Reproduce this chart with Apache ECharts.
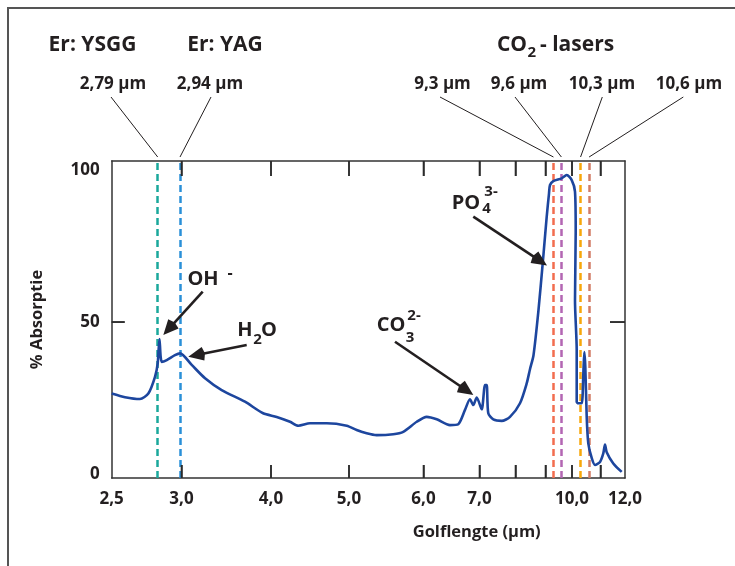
<!DOCTYPE html>
<html>
<head>
<meta charset="utf-8">
<script src="https://cdn.jsdelivr.net/npm/echarts@6.0.0/dist/echarts.min.js"></script>
<style>
  html, body { margin: 0; padding: 0; background: #fff; }
  #chart { width: 735px; height: 566px; }
</style>
</head>
<body>
<div id="chart"></div>
<script>
// wavelength axis of the drawing is not linear: calibration knots (µm -> axis units)
const xKnotWl  = [2.5, 2.79, 2.94, 3.0, 4.0, 5.0, 6.0, 7.0, 8.0, 9.0, 10.0, 11.0, 12.0];
const xKnotPos = [0, 46, 68.3, 69.8, 159.3, 237.3, 311.8, 367.8, 403.8, 433.8, 460.3, 488.8, 513.3];

const xTickWl   = [3, 4, 5, 6, 7, 8, 9, 10, 11];
const xLabelWl  = [2.5, 3, 4, 5, 6, 7, 10, 12];
const xLabels   = ['2,5', '3,0', '4,0', '5,0', '6,0', '7,0', '10,0', '12,0'];
const yLabelVal = [0, 50, 100];
const yTickVal  = [50];

// absorption spectrum (golflengte in µm, % absorptie)
const waveUm = [2.5, 2.584, 2.678, 2.731, 2.773, 2.79, 2.802, 2.817, 2.851, 2.906, 2.94,
  3.114, 3.263, 3.449, 3.709, 3.912, 4.073, 4.244, 4.35, 4.5, 4.714, 4.971,
  5.103, 5.237, 5.371, 5.594, 5.728, 5.909, 6.057, 6.236, 6.473, 6.621, 6.741,
  6.83, 6.889, 6.95, 7.061, 7.153, 7.2, 7.244, 7.383, 7.617, 7.847, 8.15, 8.373,
  8.483, 8.6, 8.76, 8.907, 9.045, 9.132, 9.17, 9.294, 9.611, 9.8, 9.989, 10.105,
  10.13, 10.105, 10.165, 10.165, 10.221, 10.34, 10.396, 10.432, 10.467, 10.516,
  10.572, 10.691, 10.807, 10.982, 11.114, 11.184, 11.253, 11.522, 11.865];
const absorb = [26.5, 25.3, 24.7, 26.5, 32.0, 36.4, 44.4, 36.9, 37.5, 39.1, 39.7,
  35.9, 31.5, 27.6, 23.8, 20.0, 18.8, 17.2, 15.9, 16.7, 16.7, 15.9,
  14.5, 13.4, 12.8, 13.1, 13.9, 17.2, 18.8, 18.0, 16.1, 16.4, 21.1,
  24.6, 22.7, 25.2, 21.3, 29.3, 29.3, 20.0, 18.0, 17.5, 18.8, 23.3, 29.8,
  34.5, 39.1, 53.3, 69.3, 84.6, 92.3, 95.1, 96.4, 97.3, 98.4, 96.7, 92.9,
  79.7, 57.2, 40.8, 23.8, 23.3, 23.3, 32.6, 40.1, 35.3, 18.8,
  10.1, 5.3, 3.0, 4.0, 6.8, 9.7, 7.2, 3.5, 0.7];

// laser lines
const laserWl     = [2.79, 2.94, 9.3, 9.6, 10.3, 10.6];
const laserLabels = ['2,79 µm', '2,94 µm', '9,3 µm', '9,6 µm', '10,3 µm', '10,6 µm'];
const laserColors = ['#1aa89c', '#2a90d8', '#f26d4f', '#b366b3', '#f7a70a', '#d27c66'];

function toPos(wl) {
  for (let i = 1; i < xKnotWl.length; i++) {
    if (wl <= xKnotWl[i]) {
      const t = (wl - xKnotWl[i - 1]) / (xKnotWl[i] - xKnotWl[i - 1]);
      return xKnotPos[i - 1] + t * (xKnotPos[i] - xKnotPos[i - 1]);
    }
  }
  return xKnotPos[xKnotPos.length - 1];
}

const INK = '#231f20';
const FONT = '"Open Sans", "Noto Sans", sans-serif';
const xMax = xKnotPos[xKnotPos.length - 1];
const yMin = -1.3, yMax = 103;

function frameAxis(pos, min, max, ticks, len, label) {
  return {
    type: 'value', min: min, max: max, position: pos,
    axisLine: { show: true, onZero: false, lineStyle: { color: '#333', width: 1.5 } },
    axisTick: { show: true, inside: true, length: len, customValues: ticks.slice(),
      lineStyle: { color: '#333', width: 1.5 } },
    axisLabel: label || { show: false },
    splitLine: { show: false }
  };
}

const xBottom = frameAxis('bottom', 0, xMax, xTickWl.map(toPos), 13, {
  customValues: xLabelWl.map(toPos), margin: 13,
  color: INK, fontWeight: 'bold', fontSize: 17, fontFamily: FONT,
  formatter: v => {
    let best = 0;
    xLabelWl.forEach((w, i) => { if (Math.abs(toPos(w) - v) < Math.abs(toPos(xLabelWl[best]) - v)) best = i; });
    return xLabels[best];
  }
});
const yLeft = frameAxis('left', yMin, yMax, yTickVal, 13, {
  customValues: yLabelVal, margin: 12, color: INK, fontWeight: 'bold', fontSize: 17, fontFamily: FONT
});
yLeft.name = '% Absorptie';
yLeft.nameLocation = 'middle';
yLeft.nameGap = 66;
yLeft.nameTextStyle = { color: INK, fontWeight: 'bold', fontSize: 16.5, fontFamily: FONT };

const chart = echarts.init(document.getElementById('chart'));

chart.setOption({
  backgroundColor: '#fff',
  animation: false,
  grid: { left: 111.7, right: 110, top: 161, bottom: 88 },
  xAxis: [xBottom, frameAxis('top', 0, xMax, xTickWl.map(toPos), 15)],
  yAxis: [yLeft, frameAxis('right', yMin, yMax, yTickVal, 15)],
  series: [{
    type: 'line',
    data: waveUm.map((w, i) => [toPos(w), absorb[i]]),
    showSymbol: false,
    smooth: 0.25,
    lineStyle: { color: '#1d469e', width: 2.6 },
    z: 5,
    markLine: {
      silent: true,
      symbol: ['none', 'none'],
      label: { show: false },
      data: laserWl.map((w, i) => ({
        xAxis: toPos(w),
        lineStyle: { color: laserColors[i], type: [7, 4], width: 2.5 }
      }))
    }
  }]
});

// annotations
function txt(x, y, s, size, align) {
  return { type: 'text', x: x, y: y, z: 10, style: {
    text: s, fill: INK, font: 'bold ' + size + 'px ' + FONT,
    textAlign: align || 'center', textVerticalAlign: 'middle' } };
}
function seg(x1, y1, x2, y2, w, color) {
  return { type: 'line', z: 10, shape: { x1, y1, x2, y2 }, style: { stroke: color || INK, lineWidth: w || 1 } };
}
function arrow(x1, y1, x2, y2) {
  const dx = x2 - x1, dy = y2 - y1, len = Math.hypot(dx, dy);
  const ux = dx / len, uy = dy / len, hl = 19, hw = 7;
  const bx = x2 - ux * hl, by = y2 - uy * hl;
  return [
    seg(x1, y1, bx + ux * 3, by + uy * 3, 2.6),
    { type: 'polygon', z: 10, shape: { points: [[x2, y2],
      [bx - uy * hw + ux * 4, by + ux * hw + uy * 4], [bx + ux * 2, by + uy * 2],
      [bx + uy * hw + ux * 4, by - ux * hw + uy * 4]] }, style: { fill: INK } }
  ];
}

const laserTextX = [113, 210, 442.5, 519, 602, 689];
const leadTopX   = [111, 211, 440, 515, 602.3, 683.3];
const botY = chart.convertToPixel({ yAxisIndex: 0 }, yMin);
const topY = chart.convertToPixel({ yAxisIndex: 0 }, yMax);
const leftX = chart.convertToPixel({ xAxisIndex: 0 }, 0);
const rightX = chart.convertToPixel({ xAxisIndex: 0 }, xMax);

const g = [
  { type: 'polyline', shape: { points: [[8, 566], [8, 8], [735, 8]] }, style: { stroke: '#555', lineWidth: 2, fill: null } },
  txt(92.5, 45, 'Er: YSGG', 21),
  txt(225, 45, 'Er: YAG', 21),
  txt(527, 45, 'CO', 21, 'right'),
  txt(527.5, 53, '2', 15, 'left'),
  txt(540, 45, '- lasers', 21, 'left'),
  txt(203, 279, 'OH', 20),
  txt(230, 273, '-', 16),
  txt(245, 330, 'H', 20),
  txt(257.5, 340, '2', 15),
  txt(269, 330, 'O', 20),
  txt(466, 203, 'PO', 20),
  txt(491, 192, '3-', 15),
  txt(486.5, 209, '4', 15),
  txt(391, 325, 'CO', 20),
  txt(414, 316, '2-', 15),
  txt(410, 338, '3', 15),
  txt(476.7, 532, 'Golflengte (µm)', 16.5)
];
// inward frame ticks, placed through the axis scales
xTickWl.forEach(w => {
  const x = chart.convertToPixel({ xAxisIndex: 0 }, toPos(w));
  g.push(seg(x, botY, x, botY - 13, 1.6, '#2b2b2b'));
  g.push(seg(x, topY, x, topY + 15, 1.6, '#2b2b2b'));
});
yTickVal.forEach(v => {
  const y = chart.convertToPixel({ yAxisIndex: 0 }, v);
  g.push(seg(leftX, y, leftX + 13, y, 1.6, '#2b2b2b'));
  g.push(seg(rightX, y, rightX - 15, y, 1.6, '#2b2b2b'));
});
laserWl.forEach((w, i) => {
  const x = chart.convertToPixel({ xAxisIndex: 0 }, toPos(w));
  g.push(txt(laserTextX[i], 84, laserLabels[i], 17));
  g.push(seg(leadTopX[i], 97, x, topY - 4, 1));
});
g.push(...arrow(202.7, 291.7, 163.3, 335));
g.push(...arrow(246.7, 345, 188.3, 356.7));
g.push(...arrow(473.3, 216.7, 547, 265.5));
g.push(...arrow(395, 341.7, 473.3, 395));

chart.setOption({ graphic: g });
</script>
</body>
</html>
